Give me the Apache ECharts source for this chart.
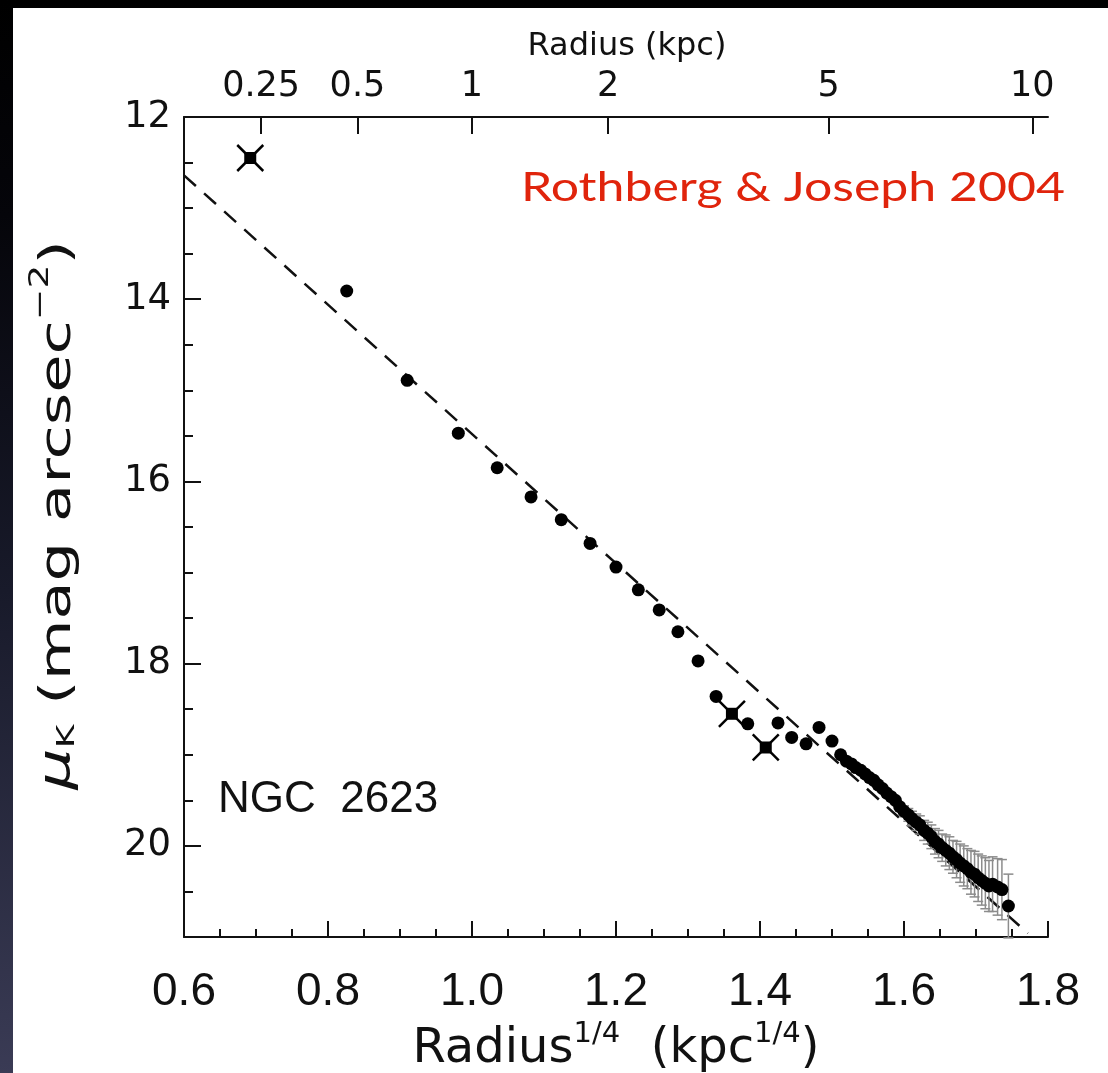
<!DOCTYPE html>
<html><head><meta charset="utf-8">
<script src="https://cdn.jsdelivr.net/npm/echarts@6/dist/echarts.min.js"></script>
<style>
html,body{margin:0;padding:0;width:1108px;height:1073px;overflow:hidden;
background:linear-gradient(180deg,#000 0%,#05050a 20%,#181a2a 55%,#3a3b55 100%);}
#panel{position:absolute;left:13px;top:8px;right:0;bottom:0;background:#fff;}
#chart{position:absolute;left:0;top:0;width:1108px;height:1073px;}
</style></head><body><div id="panel"></div><div id="chart"></div>
<script>
// Radius^(1/4) of filled-circle points
const circleX = [0.826,0.910,0.981,1.035,1.082,1.124,1.164,1.200,1.231,1.260,1.286,1.314,1.339,1.383,1.425,1.444,1.464,1.482,1.500,
  1.512,1.520,1.527,1.533,1.540,1.546,1.552,1.558,1.564,1.570,1.576,1.582,1.588,1.594,1.600,1.606,1.611,1.617,1.622,1.628,1.633,1.638,
  1.643,1.648,1.653,1.658,1.663,1.668,1.673,1.678,1.683,1.688,1.693,1.698,1.703,1.708,1.713,1.718,1.723,1.730,1.736,1.745];
// surface brightness mu_K
const circleY = [13.91,14.89,15.47,15.85,16.17,16.42,16.68,16.94,17.19,17.41,17.65,17.97,18.36,18.66,18.65,18.81,18.88,18.70,18.85,
  19.00,19.07,19.10,19.14,19.17,19.21,19.25,19.28,19.33,19.37,19.42,19.46,19.50,19.57,19.62,19.66,19.70,19.74,19.77,19.83,19.86,19.90,
  19.95,19.98,20.02,20.05,20.08,20.12,20.15,20.19,20.22,20.25,20.29,20.31,20.35,20.38,20.41,20.44,20.42,20.45,20.48,20.66];
// error bar half-heights
const circleErr = [0,0,0,0,0,0,0,0,0,0,0,0,0,0,0,0,0,0,0,
  0,0,0,0,0,0,0,0,0,0,0,0,0,0,0.06,0.07,0.08,0.09,0.10,0.11,0.12,0.13,
  0.14,0.15,0.15,0.17,0.18,0.18,0.20,0.21,0.22,0.22,0.24,0.25,0.26,0.27,0.28,0.28,0.30,0.31,0.33,0.35];
// excluded points (crosses)
const crossX = [0.692,1.361,1.408];
const crossY = [12.45,18.55,18.92];
// r^1/4 fit line
const fitX = [0.6,1.772];
const fitY = [12.64,20.96];
// tick labels
const topTickLabels = [0.25,0.5,1,2,5,10];
const yTickLabels = [12,14,16,18,20];
const yMinorTicks = [12.5,13,13.5,14.5,15,15.5,16.5,17,17.5,18.5,19,19.5,20.5];

const topTickPos = topTickLabels.map(r => Math.pow(r, 0.25));
const circleData = circleX.map((x,i) => [x, circleY[i]]);
const errData = circleX.map((x,i) => [x, circleY[i], circleErr[i]]).filter(d => d[2] > 0);
const crossData = crossX.map((x,i) => [x, crossY[i]]);
const fitData = fitX.map((x,i) => [x, fitY[i]]);

const ink = '#111';
const chart = echarts.init(document.getElementById('chart'), null, {renderer:'canvas'});
chart.setOption({
  animation: false,
  backgroundColor: 'transparent',
  grid: {left:184, right:60, top:117, bottom:136, containLabel:false, outerBoundsMode:'none'},
  xAxis: [{
    type:'value', position:'bottom', min:0.6, max:1.8, interval:0.2,
    axisLine:{lineStyle:{color:ink,width:2}},
    axisTick:{inside:true,length:16,lineStyle:{color:ink,width:2}},
    minorTick:{show:true,splitNumber:4,length:8,lineStyle:{color:ink,width:2}},
    splitLine:{show:false},
    axisLabel:{fontFamily:'Liberation Sans',fontSize:46,color:ink,margin:32,formatter:v=>v.toFixed(1)},
    name:'{t|Radius}{s|1/4}{t|  (kpc}{s|1/4}{t|)}',
    nameLocation:'middle', nameGap:82,
    nameTextStyle:{rich:{
      t:{fontFamily:'DejaVu Sans',fontSize:48,color:ink,lineHeight:54,verticalAlign:'bottom'},
      s:{fontFamily:'DejaVu Sans',fontSize:29,color:ink,lineHeight:54,verticalAlign:'top'}
    }}
  },{
    type:'value', position:'top', min:0.6, max:1.8,
    axisLine:{lineStyle:{color:ink,width:2}},
    axisTick:{inside:true,length:17,customValues:topTickPos,lineStyle:{color:ink,width:2}},
    splitLine:{show:false},
    axisLabel:{customValues:topTickPos,fontFamily:'DejaVu Sans',fontSize:35,color:ink,margin:13,
      formatter:v=>{let b=0,bd=1e9;topTickPos.forEach((p,i)=>{if(Math.abs(p-v)<bd){bd=Math.abs(p-v);b=i;}});return String(topTickLabels[b]);}}
  }],
  yAxis: [{
    type:'value', position:'left', min:12, max:21, inverse:true,
    axisLine:{lineStyle:{color:ink,width:2}},
    axisTick:{inside:true,length:17,customValues:yTickLabels,lineStyle:{color:ink,width:2}},
    splitLine:{show:false},
    axisLabel:{customValues:yTickLabels,fontFamily:'DejaVu Sans',fontSize:37,color:ink,margin:13}
  },{
    type:'value', position:'left', min:12, max:21, inverse:true, offset:0,
    axisLine:{show:false},
    axisTick:{inside:true,length:9,customValues:yMinorTicks,lineStyle:{color:ink,width:2}},
    axisLabel:{show:false}, splitLine:{show:false}
  }],
  graphic: [
    {type:'text', z:100, x:627, y:47, style:{text:'Radius (kpc)',textAlign:'center',textVerticalAlign:'middle',
      fill:ink,font:'32px "DejaVu Sans", sans-serif'}},
    {type:'text', z:100, x:54, y:515, rotation:Math.PI/2, scaleX:1.45,
      style:{text:'{m|μ}{k|K}{t| (mag arcsec}{s|−2}{t|)}',textAlign:'center',textVerticalAlign:'middle',
      rich:{
        m:{fontFamily:'DejaVu Sans',fontSize:45,fill:ink,lineHeight:52,verticalAlign:'bottom',fontStyle:'italic'},
        k:{fontFamily:'DejaVu Sans',fontSize:25,fill:ink,lineHeight:52,verticalAlign:'bottom'},
        t:{fontFamily:'DejaVu Sans',fontSize:43,fill:ink,lineHeight:52,verticalAlign:'bottom'},
        s:{fontFamily:'DejaVu Sans',fontSize:26,fill:ink,lineHeight:52,verticalAlign:'top'}
      }}},
    {type:'text', z:100, x:1065, y:188, scaleX:1.25,
      style:{text:'Rothberg & Joseph 2004',textAlign:'right',textVerticalAlign:'middle',
      fill:'#e0240c',font:'40px "Comic Sans MS", Lato, sans-serif'}},
    {type:'text', z:100, style:{x:218,y:800,text:'NGC  2623',textAlign:'left',textVerticalAlign:'middle',
      fill:ink,font:'44px "Liberation Sans", sans-serif'}}
  ],
  series: [
    {type:'line', xAxisIndex:0, yAxisIndex:0, data:fitData, symbol:'none', z:2, silent:true,
      lineStyle:{color:ink,width:2.5,type:[16,11],opacity:1}},
    {type:'custom', xAxisIndex:0, yAxisIndex:0, data:errData, z:3, silent:true,
      renderItem:(params,api)=>{
        const x=api.value(0), y=api.value(1), e=api.value(2);
        const a=api.coord([x,y-e]), b=api.coord([x,y+e]);
        const st={stroke:'#8c8c8c',lineWidth:1.5};
        return {type:'group',children:[
          {type:'line',shape:{x1:a[0],y1:a[1],x2:b[0],y2:b[1]},style:st},
          {type:'line',shape:{x1:a[0]-5,y1:a[1],x2:a[0]+5,y2:a[1]},style:st},
          {type:'line',shape:{x1:b[0]-5,y1:b[1],x2:b[0]+5,y2:b[1]},style:st}
        ]};
      }},
    {type:'scatter', xAxisIndex:0, yAxisIndex:0, data:circleData, symbol:'circle', symbolSize:13, z:4, silent:true,
      itemStyle:{color:'#000',opacity:1}},
    {type:'custom', xAxisIndex:0, yAxisIndex:0, data:crossData, z:5, silent:true,
      renderItem:(params,api)=>{
        const c=api.coord([api.value(0),api.value(1)]);
        const r=13, h=6;
        const st={stroke:'#000',lineWidth:2.5};
        return {type:'group',children:[
          {type:'line',shape:{x1:c[0]-r,y1:c[1]-r,x2:c[0]+r,y2:c[1]+r},style:st},
          {type:'line',shape:{x1:c[0]-r,y1:c[1]+r,x2:c[0]+r,y2:c[1]-r},style:st},
          {type:'rect',shape:{x:c[0]-h,y:c[1]-h,width:2*h,height:2*h},style:{fill:'#000'}}
        ]};
      }}
  ]
});
</script></body></html>
